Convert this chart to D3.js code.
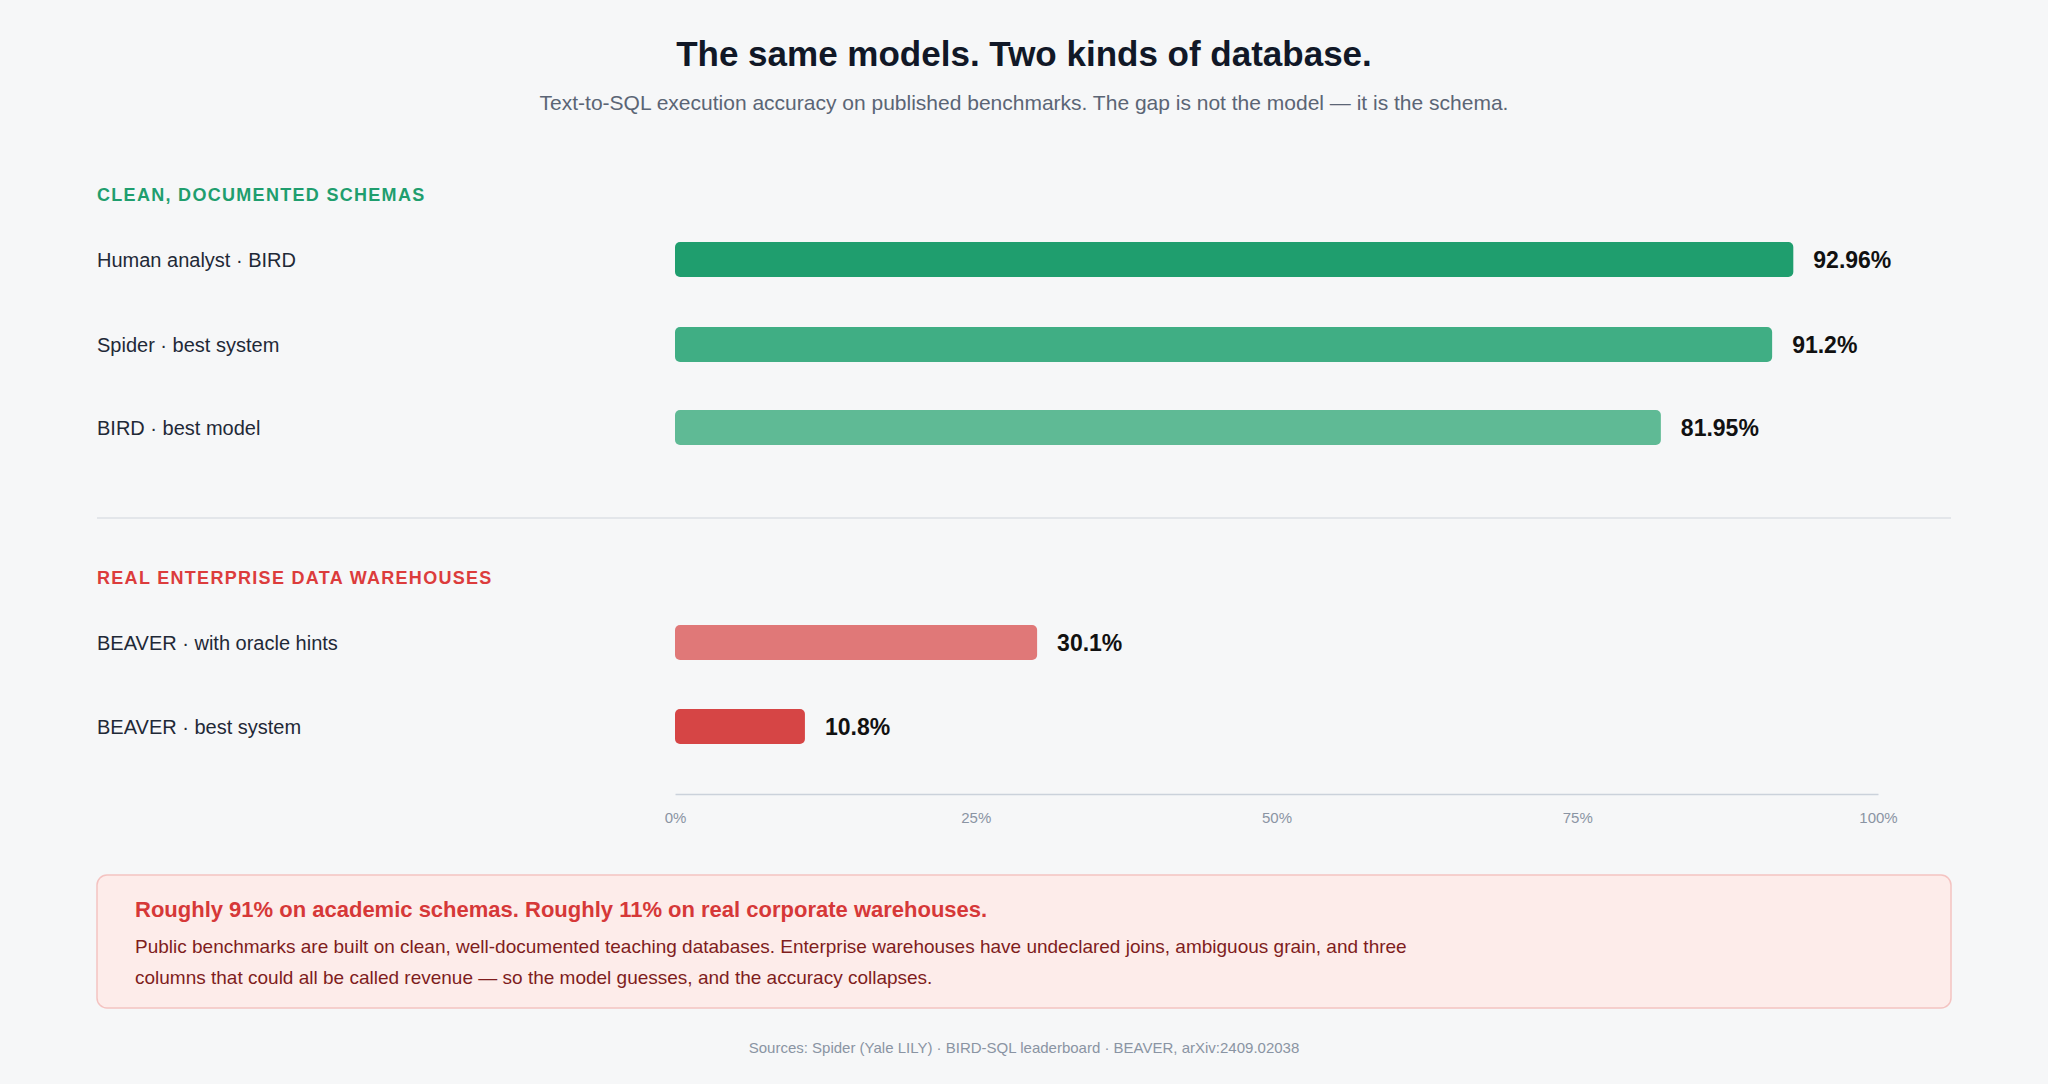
<!DOCTYPE html>
<html><head><meta charset="utf-8">
<script src="https://cdn.jsdelivr.net/npm/d3@7"></script>
<style>
body{margin:0;background:#f6f7f8;font-family:"Helvetica Neue",Arial,"Liberation Sans",sans-serif;}
</style></head>
<body><svg id="chart"></svg>
<script>
// values
var cleanLabels = ["Human analyst · BIRD", "Spider · best system", "BIRD · best model"];
var cleanValues = [92.96, 91.2, 81.95];
var cleanText = ["92.96%", "91.2%", "81.95%"];
var cleanColors = ["#1f9e6e", "#40ae84", "#5fba95"];
var realLabels = ["BEAVER · with oracle hints", "BEAVER · best system"];
var realValues = [30.1, 10.8];
var realText = ["30.1%", "10.8%"];
var realColors = ["#e07878", "#d64545"];
var tickValues = [0, 25, 50, 75, 100];

var W = 2048, H = 1084;
var svg = d3.select('#chart').attr('width', W).attr('height', H);
svg.append('rect').attr('width', W).attr('height', H).attr('fill', '#f6f7f8');

var x = d3.scaleLinear().domain([0, 100]).range([675, 1878]);

svg.append('text').attr('x', W/2).attr('y', 66).attr('text-anchor', 'middle')
  .attr('font-size', 35).attr('font-weight', 700).attr('fill', '#111827')
  .text('The same models. Two kinds of database.');
svg.append('text').attr('x', W/2).attr('y', 110).attr('text-anchor', 'middle')
  .attr('font-size', 21).attr('fill', '#5b6575')
  .text('Text-to-SQL execution accuracy on published benchmarks. The gap is not the model — it is the schema.');

function section(title, color, y0, labels, values, texts, colors, ys){
  svg.append('text').attr('x', 97).attr('y', y0).attr('font-size', 18).attr('font-weight', 700)
    .attr('letter-spacing', 1.3).attr('fill', color).text(title);
  var g = svg.append('g').selectAll('g').data(values).enter().append('g');
  g.append('text').attr('x', 97).attr('y', function(d,i){return ys[i] + 7;})
    .attr('font-size', 20).attr('fill', '#1f2937').text(function(d,i){return labels[i];});
  g.append('rect').attr('x', x(0)).attr('y', function(d,i){return ys[i] - 18;})
    .attr('height', 35).attr('rx', 5)
    .attr('width', function(d){return x(d) - x(0);})
    .attr('fill', function(d,i){return colors[i];});
  g.append('text').attr('x', function(d){return x(d) + 20;}).attr('y', function(d,i){return ys[i] + 8;})
    .attr('font-size', 23).attr('font-weight', 700).attr('fill', '#111')
    .text(function(d,i){return texts[i];});
}
section('CLEAN, DOCUMENTED SCHEMAS', '#1f9e6e', 201, cleanLabels, cleanValues, cleanText, cleanColors, [260, 345, 428]);
svg.append('line').attr('x1', 97).attr('x2', 1951).attr('y1', 518).attr('y2', 518).attr('stroke', '#dde1e6').attr('stroke-width', 1.5);
section('REAL ENTERPRISE DATA WAREHOUSES', '#dc3c3c', 584, realLabels, realValues, realText, realColors, [643, 727]);

var axis = svg.append('g').attr('transform', 'translate(0,794)')
  .call(d3.axisBottom(x).tickValues(tickValues).tickSize(0).tickPadding(18).tickFormat(function(d){return d + '%';}));
axis.select('.domain').attr('stroke', '#cbd2db').attr('stroke-width', 1.5);
axis.selectAll('text').attr('font-size', 15).attr('fill', '#8a94a3').attr('font-family', 'inherit');

svg.append('rect').attr('x', 97).attr('y', 875).attr('width', 1854).attr('height', 133).attr('rx', 10)
  .attr('fill', '#fdecea').attr('stroke', '#f4c3c1').attr('stroke-width', 1.5);
svg.append('text').attr('x', 135).attr('y', 917).attr('font-size', 22).attr('font-weight', 700).attr('fill', '#d63838')
  .text('Roughly 91% on academic schemas. Roughly 11% on real corporate warehouses.');
svg.append('text').attr('x', 135).attr('y', 953).attr('font-size', 19).attr('fill', '#7f1d1d')
  .text('Public benchmarks are built on clean, well-documented teaching databases. Enterprise warehouses have undeclared joins, ambiguous grain, and three');
svg.append('text').attr('x', 135).attr('y', 984).attr('font-size', 19).attr('fill', '#7f1d1d')
  .text('columns that could all be called revenue — so the model guesses, and the accuracy collapses.');
svg.append('text').attr('x', W/2).attr('y', 1053).attr('text-anchor', 'middle').attr('font-size', 15).attr('fill', '#8a94a3')
  .text('Sources: Spider (Yale LILY) · BIRD-SQL leaderboard · BEAVER, arXiv:2409.02038');
</script></body></html>
